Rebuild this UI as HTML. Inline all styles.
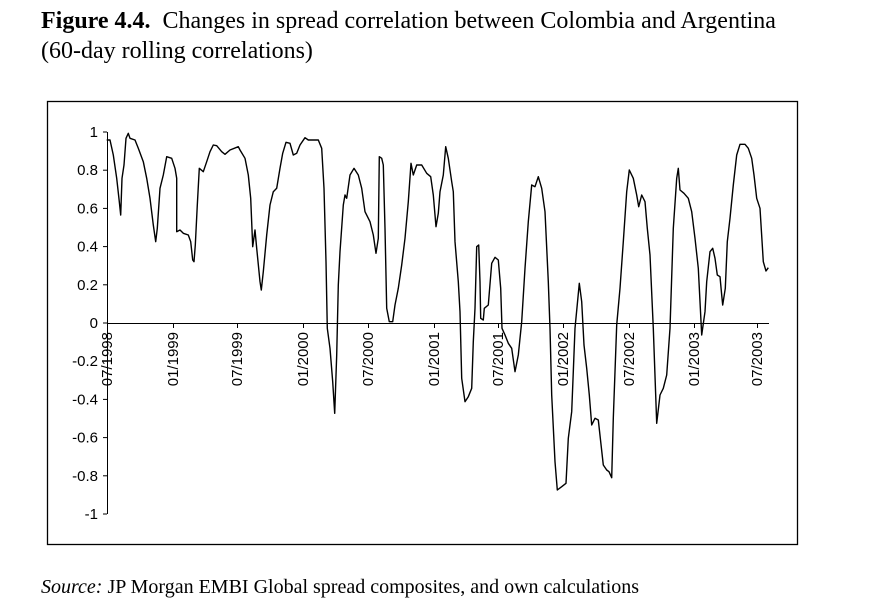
<!DOCTYPE html>
<html><head><meta charset="utf-8"><style>
body{margin:0;background:#fff;width:869px;height:614px;overflow:hidden;position:relative;font-family:"Liberation Serif",serif}
.t{position:absolute;left:41px;font-size:24px;color:#000;white-space:nowrap}
</style></head><body>
<div class="t" style="top:8px"><b>Figure 4.4.</b>&nbsp; Changes in spread correlation between Colombia and Argentina</div>
<div class="t" style="top:38px">(60-day rolling correlations)</div>
<div class="t" style="top:576px;font-size:20px"><i>Source:</i> JP Morgan EMBI Global spread composites, and own calculations</div>
<svg id="s" width="869" height="614" style="position:absolute;left:0;top:0" font-family="Liberation Sans, sans-serif" font-size="15">
<rect x="47.5" y="101.5" width="750" height="443" fill="none" stroke="#000" stroke-width="1.3"/>
<line x1="107.5" y1="132" x2="107.5" y2="514" stroke="#000"/>
<line x1="107" y1="323.5" x2="769" y2="323.5" stroke="#000"/>
<g id="g"></g>
<polyline id="p" fill="none" stroke="#000" stroke-width="1.4" stroke-linejoin="round"/>
</svg>
<script>
var g=document.getElementById('g'),h='';
for(var i=0;i<=10;i++){var v=1-i*0.2,y=132+i*38.2;var l=(Math.abs(v)<1e-9)?'0':(Math.round(v*10)/10).toString();
h+='<line x1="103" y1="'+y+'" x2="107" y2="'+y+'" stroke="#000"/><text x="98" y="'+(y+5)+'" text-anchor="end">'+l+'</text>';}
var xs=[107,173,237,303,368,434,498,563,629,694,757],lb=['07/1998','01/1999','07/1999','01/2000','07/2000','01/2001','07/2001','01/2002','07/2002','01/2003','07/2003'];
for(var i=0;i<xs.length;i++){h+='<line x1="'+(xs[i]+0.5)+'" y1="323" x2="'+(xs[i]+0.5)+'" y2="328" stroke="#000"/><text transform="translate('+(xs[i]+5)+',332) rotate(-90)" text-anchor="end">'+lb[i]+'</text>';}
g.innerHTML=h;
var L=[200,135,210,135,220,180,230,250,238,320,242,360,246,250,252,210,258,130,265,115,270,130,285,135,295,160,310,200,320,250,330,310,340,390,347,440,352,400,360,280,370,240,380,185,395,190,405,220,410,250,410,410,420,405,430,415,445,420,452,440,458,495,462,500,466,450,472,330,478,220,490,230,500,200,510,170,520,150,530,152,545,170,555,178,570,165,595,155,600,165,615,190,625,240,632,310,638,455,645,405,650,460,660,560,664,585,670,530,680,420,690,330,700,290,710,280,720,220,728,175,738,142,750,145,760,180,770,175,780,150,795,128,805,135,835,135,845,160,852,280,858,500,862,700,870,760,878,860,884,955,890,780,895,570,900,470,910,330,915,300,920,310,930,240,942,220,955,240,965,280,975,350,990,380,1000,420,1008,475,1015,430,1018,185,1025,190,1030,210,1035,400,1040,640,1048,680,1058,680,1065,630,1075,580,1085,510,1095,430,1105,320,1113,205,1120,240,1130,210,1145,210,1160,235,1172,245,1180,300,1188,395,1195,355,1200,290,1210,240,1217,155,1225,190,1235,260];
var R=[40,290,45,440,55,560,60,650,65,850,75,920,85,905,95,880,100,740,105,640,110,455,116,450,120,560,122,670,130,675,133,640,145,630,155,505,165,487,175,495,182,580,186,700,195,720,205,745,215,760,225,830,235,780,245,680,255,520,265,380,275,270,285,275,295,245,305,280,315,350,325,560,330,700,335,900,345,1100,352,1185,365,1175,378,1165,385,1030,395,950,400,830,405,700,418,565,425,620,432,750,440,820,448,900,455,990,465,970,475,975,482,1040,490,1110,500,1125,507,1130,515,1148,520,970,530,690,540,580,550,440,560,290,568,225,580,250,590,300,596,335,605,300,615,320,622,400,630,480,640,700,650,985,660,900,670,880,680,840,690,700,700,400,710,250,715,220,720,285,732,295,745,310,755,350,765,430,775,520,785,720,795,650,800,560,810,470,818,460,825,490,832,540,840,545,845,600,848,630,856,580,862,440,870,370,880,270,890,180,900,148,915,148,925,160,935,190,942,240,950,310,960,340,970,500,978,528,985,518];
var pts=[];
for(var i=0;i<L.length;i+=2)pts.push((40+L[i]/3).toFixed(1)+','+(95+L[i+1]/3).toFixed(1));
for(var i=0;i<R.length;i+=2)pts.push((440+R[i]/3).toFixed(1)+','+(95+R[i+1]/3).toFixed(1));
document.getElementById('p').setAttribute('points',pts.join(' '));
</script>
</body></html>
